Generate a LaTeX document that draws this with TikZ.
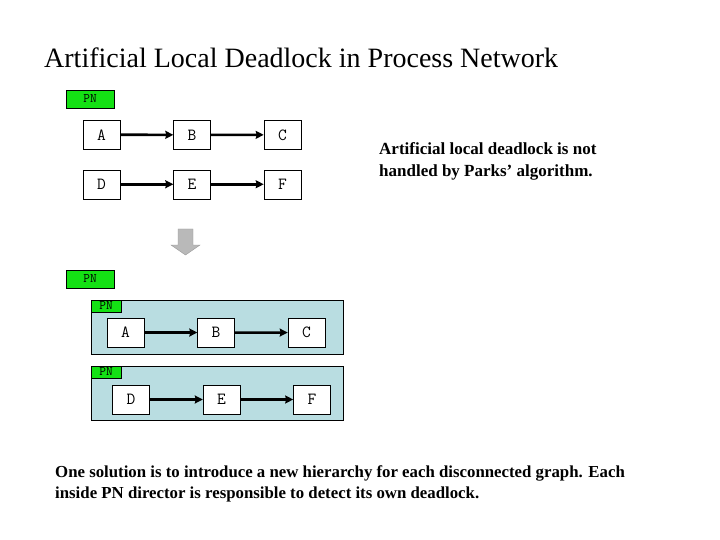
\documentclass[tikz,border=0pt]{standalone}
\usepackage{fontspec}
\setmainfont{Liberation Serif}
\usepackage{tikz}
\usetikzlibrary{matrix,arrows.meta}

\definecolor{pngreen}{RGB}{20,225,20}
\definecolor{pnblue}{RGB}{185,221,225}

\tikzset{
  actor/.style={draw,fill=white,minimum width=37pt,minimum height=29pt,
    inner sep=0pt,font=\ttfamily\fontsize{17}{17}\selectfont},
  pnlabel/.style={draw,fill=pngreen,minimum width=48pt,minimum height=18pt,
    inner sep=0pt,font=\ttfamily\fontsize{13}{13}\selectfont},
  pntab/.style={draw,fill=pngreen,minimum width=30pt,minimum height=12pt,
    inner sep=0pt,font=\ttfamily\fontsize{13}{13}\selectfont},
  director/.style={draw,fill=pnblue,minimum width=252pt,minimum height=54pt,inner sep=0pt},
  flow/.style={line width=2.6pt}
}

\begin{document}
\begin{tikzpicture}[>={Stealth[length=8pt,width=8pt,inset=1pt]},x=1pt,y=-1pt]
    \useasboundingbox (0,0) rectangle (720,540);

    \node[anchor=base west,inner sep=0pt,font=\fontsize{28}{28}\selectfont] (title) at (44,68)
      {Artificial Local Deadlock in Process Network};

    % flat process network
    \node[pnlabel] (pntop) at (90,99) {PN};
    \matrix [%
    matrix of nodes,
    nodes=actor,
    column sep=53pt,
    row sep=20pt
    ] (flat) at (192,159.5) {%
      A & B & C \\
      D & E & F \\
    };

    \foreach \r in {1,2} {
      \path (flat-\r-1) edge[->,flow] (flat-\r-2)
      (flat-\r-2)       edge[->,flow] (flat-\r-3);
    }

    \node[anchor=base west,align=left,inner sep=0pt,font=\bfseries\fontsize{17}{22}\selectfont] (remark) at (379,177)
      {Artificial local deadlock is not\\handled by Parks' algorithm.};

    % transformation arrow
    \filldraw[fill=gray!55,draw=gray!80] (178,229) -- (193,229) -- (193,245) -- (200,245)
      -- (185.5,255) -- (171,245) -- (178,245) -- cycle;

    % hierarchical process network
    \node[pnlabel] (pnouter) at (90,279) {PN};
    \node[director] (dirone) at (217,327) {};
    \node[director] (dirtwo) at (217,393) {};
    \node[pntab,anchor=north west] (tabone) at (dirone.north west) {PN};
    \node[pntab,anchor=north west] (tabtwo) at (dirtwo.north west) {PN};

    \matrix [matrix of nodes,nodes=actor,column sep=53pt] (upper) at (216,332.5) {%
      A & B & C \\
    };
    \matrix [matrix of nodes,nodes=actor,column sep=53pt] (lower) at (221.5,399.5) {%
      D & E & F \\
    };

    \foreach \m in {upper,lower} {
      \path (\m-1-1) edge[->,flow] (\m-1-2)
      (\m-1-2)       edge[->,flow] (\m-1-3);
    }

    \node[anchor=base west,align=left,inner sep=0pt,font=\bfseries\fontsize{16.8}{21}\selectfont] (solution) at (55,498)
      {One solution is to introduce a new hierarchy for each disconnected graph. Each\\
       inside PN director is responsible to detect its own deadlock.};
  \end{tikzpicture}
\end{document}
